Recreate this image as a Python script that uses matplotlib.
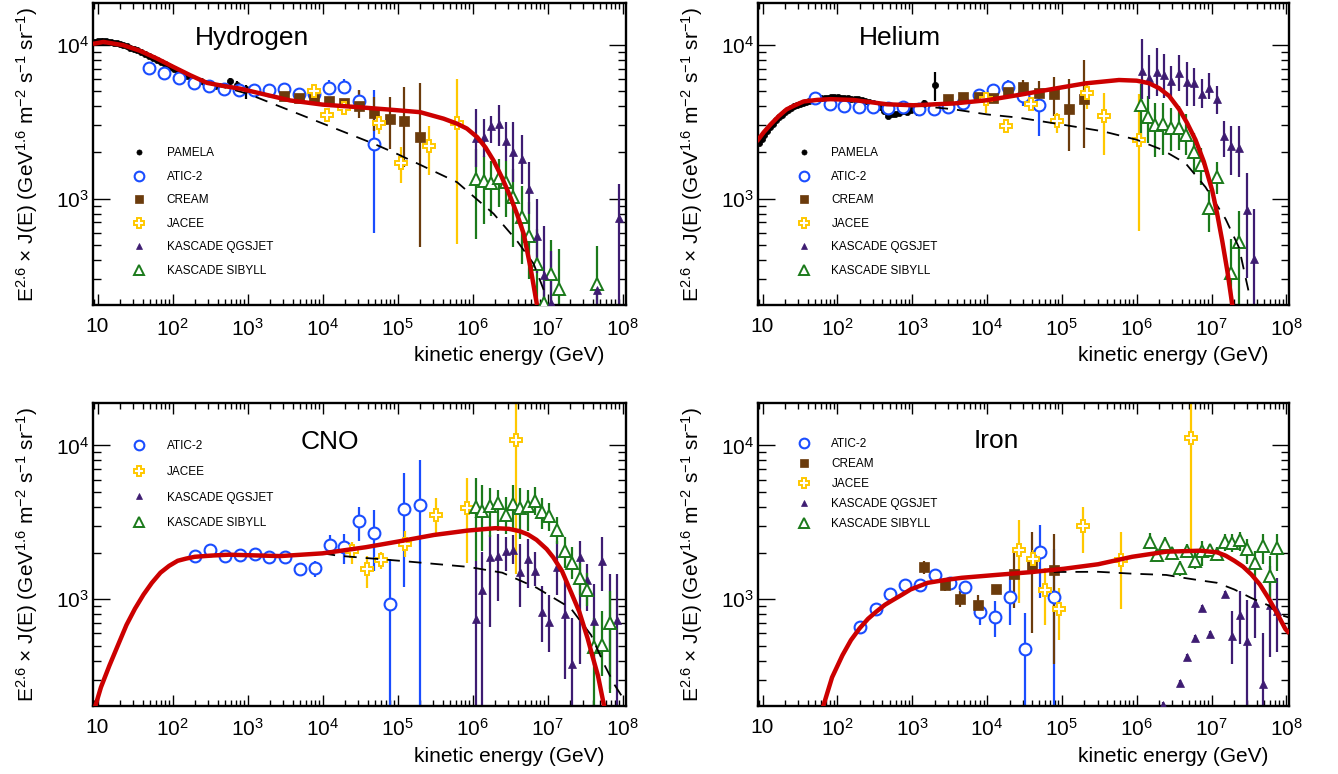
import numpy as np
import matplotlib
matplotlib.use("Agg")
import matplotlib.pyplot as plt
from matplotlib.lines import Line2D
from matplotlib.ticker import FixedLocator, FuncFormatter, NullFormatter, LogLocator

plt.rcParams["font.family"] = ["Liberation Sans", "DejaVu Sans"]
plt.rcParams["mathtext.fontset"] = "custom"
plt.rcParams["mathtext.rm"] = "Liberation Sans"
plt.rcParams["mathtext.it"] = "Liberation Sans:italic"
plt.rcParams["mathtext.bf"] = "Liberation Sans:bold"

# ---------------- Hydrogen ----------------
h_pamela_e = [8.8, 9.5, 10.2, 11.0, 11.9, 12.9, 14.0, 15.2, 16.6, 18.2, 20.0, 22.0, 24.4, 27.1, 30.2,
              33.8, 38.0, 42.8, 48.3, 54.6, 61.9, 70.3, 80.0, 91.2, 104, 119, 136, 156, 179, 206,
              237, 273, 315, 364, 420]
h_pamela_j = [10500, 10550, 10600, 10600, 10600, 10600, 10550, 10500, 10400, 10300, 10150, 10000, 9850,
              9650, 9450, 9250, 9050, 8800, 8550, 8300, 8050, 7750, 7500, 7250, 7000, 6750, 6500, 6300,
              6100, 5950, 5800, 5650, 5550, 5450, 5400]
h_pamela_tail_e = [575, 721, 955]
h_pamela_tail_j = [5820, 5530, 5210]
h_pamela_tail_lo = [5480, 5210, 4480]
h_pamela_tail_hi = [6150, 5820, 5530]

h_atic_e = [48, 77, 122, 193, 305, 484, 776, 1230, 1950, 3090, 4900, 7760, 1.23e4, 1.95e4, 3.1e4, 4.9e4]
h_atic_j = [7080, 6560, 6080, 5700, 5400, 5180, 5130, 5080, 5130, 5180, 4810, 4810, 5260, 5370, 4310, 2280]
h_atic_lo = [6940, 6430, 5960, 5590, 5290, 5080, 5030, 4980, 5030, 5070, 4710, 4700, 4710, 4830, 3660, 600]
h_atic_hi = [7220, 6690, 6200, 5810, 5510, 5280, 5230, 5180, 5230, 5290, 4910, 4920, 5900, 5990, 5130, 5080]

h_cream_e = [3090, 4900, 7760, 1.23e4, 1.95e4, 3.1e4, 4.9e4, 7.8e4, 1.23e5, 1.98e5]
h_cream_j = [4670, 4550, 4440, 4320, 4220, 3990, 3610, 3280, 3230, 2515]
h_cream_lo = [4550, 4430, 4310, 4170, 4050, 3330, 2780, 2110, 1620, 486]
h_cream_hi = [4790, 4670, 4570, 4470, 4400, 5080, 4570, 4580, 5310, 5650]

h_jacee_e = [7760, 1.15e4, 1.9e4, 5.7e4, 1.1e5, 2.6e5, 6.2e5]
h_jacee_j = [5030, 3520, 3920, 3130, 1710, 2210, 3100]
h_jacee_lo = [4800, 3380, 3660, 2650, 1260, 1435, 506]
h_jacee_hi = [5250, 3660, 4260, 3520, 2160, 2960, 6050]

h_qgs_e = [1.12e6, 1.41e6, 1.78e6, 2.24e6, 2.82e6, 3.5e6, 4.5e6, 5.6e6, 7.1e6, 8.9e6, 1.12e7, 4.6e7, 8.8e7]
h_qgs_j = [2490, 2540, 2970, 3050, 2390, 2010, 1825, 1150, 570, 318, 210, 253, 748]
h_qgs_lo = [1600, 1860, 2300, 2220, 1770, 1280, 1250, 794, 330, 150, 150, 150, 150]
h_qgs_hi = [3850, 3320, 3480, 4055, 3150, 3150, 2580, 1730, 995, 667, 457, 291, 1250]

h_sib_e = [1.12e6, 1.41e6, 1.78e6, 2.24e6, 2.82e6, 3.5e6, 4.5e6, 5.6e6, 7.1e6, 8.9e6, 1.12e7, 1.41e7, 4.6e7]
h_sib_j = [1345, 1310, 1260, 1365, 1280, 1020, 755, 570, 374, 209, 322, 257, 279]
h_sib_lo = [546, 684, 774, 877, 755, 481, 374, 299, 150, 150, 150, 150, 150]
h_sib_hi = [2110, 1910, 1770, 1815, 1770, 1565, 1215, 946, 634, 314, 537, 469, 493]

h_model_e = [8.7, 12, 22, 37, 62, 103, 172, 288, 500, 794, 1500, 3700, 1e4, 2.9e4, 8e4, 2e5, 4.1e5,
             6.2e5, 8.4e5, 1.15e6, 1.48e6, 1.9e6, 2.45e6, 3.2e6, 3.9e6, 4.8e6, 5.9e6, 7.2e6]
h_model_j = [10200, 10500, 10000, 9180, 8180, 7210, 6370, 5680, 5400, 5210, 4840, 4365, 4100, 3950,
             3800, 3660, 3320, 3080, 2860, 2515, 2160, 1770, 1378, 1020, 794, 588, 356, 203]
h_break_e = [8.7, 12, 22, 37, 62, 103, 172, 288, 500, 1000, 4.8e4, 1e5, 6.2e5, 1.9e6, 3.9e6, 6.5e6, 9.3e6]
h_break_j = [10200, 10500, 10000, 9180, 8180, 7210, 6370, 5680, 5300, 4830, 2280, 1950, 1280, 798, 531,
             376, 239]

# ---------------- Helium ----------------
he_pamela_e = [8.9, 9.7, 10.6, 11.6, 12.7, 13.9, 15.2, 16.6, 18.2, 19.9, 21.8, 23.9, 26.2, 28.7, 31.5,
               34.6, 38.0, 41.8, 46.0, 50.6, 55.7, 61.4, 67.7, 74.7, 82.5, 91.2, 101, 112, 124, 138,
               153, 170, 190, 212, 237, 265, 297, 333, 374, 420, 472, 530, 596, 670, 753, 847, 952]
he_pamela_j = [2300, 2450, 2600, 2760, 2920, 3080, 3240, 3390, 3530, 3660, 3780, 3890, 3990, 4080, 4160,
               4230, 4290, 4340, 4380, 4420, 4460, 4500, 4530, 4560, 4600, 4620, 4600, 4550, 4520, 4500,
               4480, 4460, 4440, 4400, 4350, 4280, 4200, 4100, 3950, 3720, 3450, 3580, 3550, 3600, 3720,
               3650, 3800]
he_pamela_tail_e = [1150, 1450, 1990]
he_pamela_tail_j = [3700, 4180, 5500]
he_pamela_tail_lo = [3450, 3980, 4330]
he_pamela_tail_hi = [3950, 4400, 6730]

he_atic_e = [51, 79, 124, 193, 300, 480, 760, 1220, 1930, 3050, 4850, 7700, 1.2e4, 1.9e4, 3.0e4, 5.0e4]
he_atic_j = [4510, 4160, 4010, 3980, 3960, 3920, 3960, 3860, 3860, 3980, 4230, 4720, 5090, 5310, 4700, 4060]
he_atic_lo = [4420, 4070, 3920, 3890, 3870, 3830, 3870, 3770, 3770, 3880, 4120, 4600, 4950, 5050, 4010, 2570]
he_atic_hi = [4600, 4250, 4100, 4070, 4050, 4010, 4050, 3950, 3950, 4080, 4340, 4840, 5230, 5900, 5000, 4790]

he_cream_e = [3050, 4850, 7700, 1.2e4, 1.9e4, 3.0e4, 5.0e4, 7.9e4, 1.26e5, 2.0e5]
he_cream_j = [4470, 4590, 4600, 4510, 4960, 5310, 4870, 4790, 3820, 4470]
he_cream_lo = [4370, 4490, 4480, 4380, 4800, 5050, 4300, 3450, 2030, 2140]
he_cream_hi = [4570, 4690, 4720, 4640, 5120, 5900, 5880, 6170, 6030, 8040]

he_jacee_e = [9800, 1.8e4, 3.9e4, 8.5e4, 2.2e5, 3.7e5, 1.07e6]
he_jacee_j = [4450, 2970, 4120, 3190, 4870, 3450, 2420]
he_jacee_lo = [3630, 2880, 3980, 2680, 3820, 1930, 618]
he_jacee_hi = [4800, 3060, 4260, 3630, 5860, 4900, 4790]

he_qgs_e = [1.16e6, 1.46e6, 1.85e6, 2.31e6, 2.9e6, 3.67e6, 4.65e6, 5.8e6, 7.4e6, 9.2e6, 1.17e7, 1.47e7,
            1.84e7, 2.34e7, 2.95e7, 3.7e7]
he_qgs_j = [6820, 6110, 6720, 6410, 5800, 6590, 5780, 5660, 4840, 5270, 4450, 2550, 2190, 2140, 845, 405]
he_qgs_lo = [4450, 4450, 4680, 4560, 4450, 5050, 4020, 4020, 3920, 4450, 3540, 1880, 1425, 1390, 304, 150]
he_qgs_hi = [10900, 8570, 9590, 8810, 7360, 8570, 7760, 7080, 6030, 6590, 5450, 3200, 2970, 2970, 1460, 859]

he_sib_e = [1.13e6, 1.43e6, 1.78e6, 2.24e6, 2.85e6, 3.67e6, 4.6e6, 5.76e6, 7.3e6, 9.2e6, 1.17e7, 1.84e7, 2.34e7]
he_sib_j = [4060, 3420, 3000, 3050, 2890, 2900, 2610, 2010, 1660, 871, 1390, 328, 525]
he_sib_lo = [2420, 2310, 1880, 1930, 2030, 2080, 1930, 1460, 1220, 603, 1080, 150, 150]
he_sib_hi = [5580, 4680, 4230, 4230, 3920, 4020, 3540, 2680, 2140, 1135, 1740, 545, 837]

he_model_e = [8.4, 10.4, 12.8, 16.5, 21, 27.5, 35.5, 54, 81, 165, 460, 1040, 3600, 1e4, 2.66e4, 1e5,
              2.07e5, 5.8e5, 1e6, 1.45e6, 2e6, 2.7e6, 3.7e6, 4.7e6, 6.1e6, 7.9e6, 1.02e7, 1.19e7,
              1.39e7, 1.63e7, 1.9e7]
he_model_j = [2360, 2710, 3040, 3450, 3820, 4070, 4300, 4400, 4450, 4395, 4120, 4060, 4170, 4380, 4740,
              5310, 5640, 5930, 5870, 5660, 5240, 4680, 3820, 3120, 2420, 1740, 1134, 796, 531, 336, 201]
he_break_e = [8.4, 10.4, 12.8, 16.5, 21, 27.5, 35.5, 54, 81, 165, 460, 1040, 3600, 1e4, 2.66e4, 1e5,
              3.5e5, 1e6, 2.2e6, 4.5e6, 8.3e6, 1.54e7, 2.33e7, 3.2e7]
he_break_j = [2360, 2710, 3040, 3450, 3820, 4070, 4300, 4400, 4450, 4395, 4120, 4060, 3820, 3540, 3370,
              3040, 2750, 2420, 2080, 1700, 1190, 738, 480, 237]

# ---------------- CNO ----------------
cno_atic_e = [198, 318, 498, 789, 1260, 1940, 3120, 4940, 7840, 1.24e4, 1.95e4, 3.1e4, 4.9e4, 7.8e4,
              1.22e5, 1.96e5]
cno_atic_j = [1910, 2090, 1900, 1940, 1970, 1870, 1870, 1580, 1590, 2265, 2180, 3230, 2700, 936, 3890, 4090]
cno_atic_lo = [1850, 2020, 1840, 1880, 1910, 1810, 1810, 1490, 1395, 1990, 1690, 2410, 1530, 150, 1200, 150]
cno_atic_hi = [1970, 2160, 1960, 2000, 2030, 1930, 1930, 1670, 1780, 2600, 2640, 3990, 3790, 1820, 6610, 8090]

cno_jacee_e = [2.45e4, 3.86e4, 6.0e4, 1.25e5, 3.2e5, 8.5e5, 3.77e6]
cno_jacee_j = [2050, 1570, 1800, 2290, 3550, 3930, 10900]
cno_jacee_lo = [1690, 1190, 1570, 1870, 2640, 1730, 1450]
cno_jacee_hi = [2350, 1920, 2040, 2800, 4530, 6120, 25000]

cno_qgs_e = [1.1e6, 1.35e6, 1.72e6, 2.19e6, 2.75e6, 3.4e6, 4.27e6, 5.45e6, 6.8e6, 8.5e6, 1.05e7, 1.33e7,
             1.69e7, 2.13e7, 2.68e7, 3.34e7, 4.2e7, 5.3e7, 6.7e7, 8.5e7]
cno_qgs_j = [747, 1157, 1870, 1900, 2050, 2090, 1515, 1820, 1530, 826, 709, 1625, 805, 381, 1870, 1327,
             724, 1780, 709, 734]
cno_qgs_lo = [150, 150, 664, 980, 1530, 1700, 886, 1190, 1220, 530, 455, 1073, 303, 150, 380, 834, 372,
              1130, 261, 150]
cno_qgs_hi = [1780, 2020, 2600, 2660, 2540, 2600, 2290, 2470, 2020, 1220, 1073, 2410, 1347, 753, 2400,
              1690, 1250, 2540, 1450, 1450]

cno_sib_e = [1.1e6, 1.35e6, 1.72e6, 2.19e6, 2.75e6, 3.4e6, 4.27e6, 5.45e6, 6.8e6, 8.5e6, 1.05e7, 1.33e7,
             1.69e7, 2.13e7, 2.68e7, 3.3e7, 4.2e7, 5.3e7, 6.7e7]
cno_sib_j = [3990, 3760, 4050, 4240, 3520, 4150, 3930, 4030, 4350, 3700, 3480, 2830, 2050, 1720, 1380,
             1158, 491, 503, 698]
cno_sib_lo = [1780, 2070, 2540, 2800, 2660, 2800, 2470, 2800, 3520, 2870, 2800, 2290, 1607, 1347, 1073,
              900, 150, 319, 248]
cno_sib_hi = [6120, 5530, 5260, 5140, 4650, 5530, 5260, 5140, 5400, 4530, 4200, 3430, 2540, 2180, 1733,
              1490, 753, 834, 1130]

cno_model_e = [8.7, 11.1, 14.4, 18.7, 24.3, 31.5, 41, 53, 69, 90, 117, 152, 198, 333, 563, 2720, 1e4,
               3.74e4, 1.07e5, 3.05e5, 8.7e5, 2.0e6, 3.05e6, 4.2e6, 5.45e6, 7.1e6, 9.7e6, 1.19e7,
               1.55e7, 2.02e7, 2.63e7, 3.41e7, 3.98e7, 4.68e7, 5.59e7, 6.2e7]
cno_model_j = [180, 268, 371, 503, 681, 868, 1073, 1280, 1490, 1650, 1780, 1840, 1890, 1925, 1950, 1910,
               1990, 2180, 2385, 2620, 2800, 2900, 2870, 2775, 2640, 2435, 2120, 1870, 1528, 1130, 834,
               557, 422, 319, 208, 160]
cno_break_e = [1.0e4, 1.62e4, 1.07e5, 8.7e5, 2.48e6, 7.1e6, 2.02e7, 3.78e7, 5.75e7, 7.9e7, 1.0e8]
cno_break_j = [1990, 1920, 1780, 1625, 1490, 1190, 877, 587, 372, 275, 230]

# ---------------- Iron ----------------
fe_atic_e = [202, 324, 513, 813, 1280, 2030, 3210, 5100, 8180, 1.28e4, 2.03e4, 3.24e4, 5.07e4, 7.9e4]
fe_atic_j = [661, 859, 1090, 1236, 1248, 1430, 1280, 1211, 826, 773, 1031, 479, 2020, 1041]
fe_atic_lo = [640, 832, 1056, 1198, 1210, 1385, 1240, 1130, 681, 571, 681, 150, 1020, 150]
fe_atic_hi = [682, 886, 1124, 1274, 1286, 1475, 1320, 1290, 970, 970, 1452, 813, 3020, 2120]

fe_cream_e = [1450, 2720, 4370, 7590, 1.31e4, 2.26e4, 3.94e4, 7.9e4]
fe_cream_j = [1624, 1230, 1000, 914, 1175, 1452, 1675, 1545]
fe_cream_lo = [1450, 1130, 886, 753, 1130, 877, 601, 381]
fe_cream_hi = [1780, 1330, 1130, 1073, 1220, 2020, 2730, 2660]

fe_jacee_e = [2.67e4, 4.07e4, 6.0e4, 9.2e4, 1.94e5, 6.2e5, 5.27e6]
fe_jacee_j = [2100, 1825, 1152, 869, 2980, 1800, 11100]
fe_jacee_lo = [946, 1500, 681, 543, 1990, 869, 1970]
fe_jacee_hi = [3260, 2100, 1607, 1188, 3990, 2730, 25000]

fe_qgs_e = [2.28e6, 3.77e6, 4.75e6, 5.98e6, 7.5e6, 9.5e6, 1.5e7, 1.9e7, 2.4e7, 3.0e7, 3.8e7, 4.8e7,
            6.0e7, 7.6e7]
fe_qgs_j = [205, 284, 422, 562, 877, 597, 1090, 580, 793, 535, 946, 282, 922, 834]
fe_qgs_lo = [195, 270, 402, 536, 840, 572, 1045, 381, 516, 150, 557, 150, 422, 455]
fe_qgs_hi = [216, 298, 442, 588, 914, 622, 1135, 834, 1130, 995, 1313, 601, 1650, 1380]

fe_sib_e = [1.5e6, 1.86e6, 2.38e6, 2.96e6, 3.77e6, 4.75e6, 5.98e6, 7.5e6, 9.5e6, 1.19e7, 1.5e7, 1.89e7,
            2.4e7, 3.0e7, 3.8e7, 4.8e7, 6.0e7, 7.6e7]
fe_sib_j = [2370, 1940, 2290, 2010, 1592, 2050, 1780, 2070, 2090, 1970, 2350, 2325, 2430, 2120, 1718,
            2210, 1417, 2155]
fe_sib_lo = [2120, 1780, 2050, 1870, 1417, 1870, 1567, 1650, 1870, 1780, 2070, 2020, 2050, 1690, 1313,
             1690, 1020, 1530]
fe_sib_hi = [2690, 2120, 2540, 2200, 1780, 2290, 1990, 2380, 2290, 2180, 2660, 2660, 2730, 2470, 2070,
             2660, 1920, 2640]

fe_model_e = [60, 66, 85, 117, 152, 198, 257, 334, 435, 563, 735, 955, 1240, 1610, 2720, 4590, 1.31e4,
              3.73e4, 1.07e5, 3.05e5, 8.7e5, 2.48e6, 7.1e6, 1.19e7, 1.55e7, 2.02e7, 2.63e7, 3.41e7,
              4.43e7, 5.75e7, 7.5e7, 9.7e7, 1.1e8]
fe_model_j = [180, 208, 311, 433, 543, 647, 747, 834, 923, 995, 1073, 1160, 1218, 1280, 1334, 1380, 1440,
              1500, 1580, 1690, 1890, 2040, 2070, 2020, 1920, 1780, 1633, 1450, 1248, 1020, 813, 641, 600]
fe_break_e = [7.8e4, 3.05e5, 8.7e5, 2.48e6, 4.2e6, 7.1e6, 1.19e7, 2.02e7, 3.41e7, 5.75e7, 8.3e7, 1.1e8]
fe_break_j = [1505, 1510, 1468, 1440, 1380, 1327, 1280, 1158, 1020, 914, 793, 760]

X_MAJOR = [1e1, 1e2, 1e3, 1e4, 1e5, 1e6, 1e7, 1e8]
Y_MAJOR = [1e3, 1e4]

YLABEL = "E$^{2.6}$ × J(E) (GeV$^{1.6}$ m$^{-2}$ s$^{-1}$ sr$^{-1}$)"

STYLES = {
    "PAMELA": dict(marker="o", ms=4.5, color="black", mfc="black", mec="black", mew=0.5),
    "ATIC-2": dict(marker="o", ms=8.5, color="#1a4dff", mfc="white", mec="#1a4dff", mew=1.5),
    "CREAM": dict(marker="s", ms=6.5, color="#6b3b0c", mfc="#6b3b0c", mec="#6b3b0c", mew=0.5),
    "JACEE": dict(marker="P", ms=9, color="#ffc800", mfc="white", mec="#ffc800", mew=1.4),
    "KASCADE QGSJET": dict(marker="^", ms=5.5, color="#3e1c72", mfc="#3e1c72", mec="#3e1c72", mew=0.5),
    "KASCADE SIBYLL": dict(marker="^", ms=8, color="#1b7a1b", mfc="white", mec="#1b7a1b", mew=1.4),
}


def plot_points(ax, name, e, j, lo=None, hi=None):
    st = STYLES[name]
    e = np.asarray(e, float)
    j = np.asarray(j, float)
    if lo is not None:
        yerr = [j - np.asarray(lo, float), np.asarray(hi, float) - j]
        ax.errorbar(e, j, yerr=yerr, fmt="none", ecolor=st["color"], elinewidth=1.6, capsize=0, zorder=2)
    ax.plot(e, j, ls="none", marker=st["marker"], ms=st["ms"], mfc=st["mfc"], mec=st["mec"],
            mew=st["mew"], zorder=3)


def plot_model(ax, me, mj, be, bj):
    ax.plot(be, bj, color="black", lw=1.3, dashes=(7, 5), zorder=5)
    ax.plot(me, mj, color="#cc0000", lw=3.2, zorder=6, solid_capstyle="butt", solid_joinstyle="round")


def pow_label(v, pos):
    n = int(round(np.log10(v)))
    if n == 1:
        return "10"
    return r"$10^{%d}$" % n


def style_axes(ax, title, title_xy, names, legend_xy, spacing):
    ax.set_xscale("log")
    ax.set_yscale("log")
    ax.set_xlim(8.7, 1.09e8)
    ax.set_ylim(203, 1.88e4)
    ax.xaxis.set_major_locator(FixedLocator(X_MAJOR))
    ax.xaxis.set_minor_locator(LogLocator(base=10, subs=np.arange(2, 10)))
    ax.xaxis.set_major_formatter(FuncFormatter(pow_label))
    ax.xaxis.set_minor_formatter(NullFormatter())
    ax.yaxis.set_major_locator(FixedLocator(Y_MAJOR))
    ax.yaxis.set_minor_locator(LogLocator(base=10, subs=np.arange(2, 10)))
    ax.yaxis.set_major_formatter(FuncFormatter(pow_label))
    ax.yaxis.set_minor_formatter(NullFormatter())

    ax.tick_params(which="both", direction="in", top=True, right=True, width=1.0, colors="black")
    ax.tick_params(axis="x", which="major", length=8, labelsize=15, pad=9)
    ax.tick_params(axis="x", which="minor", length=4)
    ax.tick_params(axis="y", which="major", length=12, labelsize=15, pad=3)
    ax.tick_params(axis="y", which="minor", length=6)
    for spine in ax.spines.values():
        spine.set_linewidth(1.7)

    ax.set_xlabel("kinetic energy (GeV)", fontsize=15, ha="right")
    ax.xaxis.set_label_coords(0.96, -0.135)
    ax.set_ylabel(YLABEL, fontsize=15)
    ax.yaxis.set_label_coords(-0.099, 0.5)

    ax.text(title_xy[0], title_xy[1], title, transform=ax.transAxes, fontsize=19,
            ha="center", va="center")

    handles = []
    for name in names:
        st = STYLES[name]
        handles.append(Line2D([], [], ls="none", marker=st["marker"], ms=st["ms"], mfc=st["mfc"],
                              mec=st["mec"], mew=st["mew"]))
    ax.legend(handles, names, loc="upper left", bbox_to_anchor=legend_xy, frameon=False, fontsize=8.5,
              handlelength=1.0, handletextpad=1.8, labelspacing=spacing, borderpad=0,
              borderaxespad=0, numpoints=1, markerscale=0.82)


fig = plt.figure(figsize=(13.38, 7.74), dpi=100)
ax_h = fig.add_axes([0.0695, 0.606, 0.398, 0.390])
ax_he = fig.add_axes([0.5665, 0.606, 0.397, 0.390])
ax_cno = fig.add_axes([0.0695, 0.088, 0.398, 0.391])
ax_fe = fig.add_axes([0.5665, 0.088, 0.397, 0.391])

# Hydrogen
plot_points(ax_h, "PAMELA", h_pamela_e, h_pamela_j)
plot_points(ax_h, "PAMELA", h_pamela_tail_e, h_pamela_tail_j, h_pamela_tail_lo, h_pamela_tail_hi)
plot_points(ax_h, "ATIC-2", h_atic_e, h_atic_j, h_atic_lo, h_atic_hi)
plot_points(ax_h, "CREAM", h_cream_e, h_cream_j, h_cream_lo, h_cream_hi)
plot_points(ax_h, "JACEE", h_jacee_e, h_jacee_j, h_jacee_lo, h_jacee_hi)
plot_points(ax_h, "KASCADE SIBYLL", h_sib_e, h_sib_j, h_sib_lo, h_sib_hi)
plot_points(ax_h, "KASCADE QGSJET", h_qgs_e, h_qgs_j, h_qgs_lo, h_qgs_hi)
plot_model(ax_h, h_model_e, h_model_j, h_break_e, h_break_j)
style_axes(ax_h, "Hydrogen", (0.298, 0.885),
           ["PAMELA", "ATIC-2", "CREAM", "JACEE", "KASCADE QGSJET", "KASCADE SIBYLL"],
           (0.076, 0.522), 0.97)

# Helium
plot_points(ax_he, "PAMELA", he_pamela_e, he_pamela_j)
plot_points(ax_he, "PAMELA", he_pamela_tail_e, he_pamela_tail_j, he_pamela_tail_lo, he_pamela_tail_hi)
plot_points(ax_he, "ATIC-2", he_atic_e, he_atic_j, he_atic_lo, he_atic_hi)
plot_points(ax_he, "CREAM", he_cream_e, he_cream_j, he_cream_lo, he_cream_hi)
plot_points(ax_he, "JACEE", he_jacee_e, he_jacee_j, he_jacee_lo, he_jacee_hi)
plot_points(ax_he, "KASCADE SIBYLL", he_sib_e, he_sib_j, he_sib_lo, he_sib_hi)
plot_points(ax_he, "KASCADE QGSJET", he_qgs_e, he_qgs_j, he_qgs_lo, he_qgs_hi)
plot_model(ax_he, he_model_e, he_model_j, he_break_e, he_break_j)
style_axes(ax_he, "Helium", (0.267, 0.885),
           ["PAMELA", "ATIC-2", "CREAM", "JACEE", "KASCADE QGSJET", "KASCADE SIBYLL"],
           (0.076, 0.522), 0.97)

# CNO
plot_points(ax_cno, "ATIC-2", cno_atic_e, cno_atic_j, cno_atic_lo, cno_atic_hi)
plot_points(ax_cno, "JACEE", cno_jacee_e, cno_jacee_j, cno_jacee_lo, cno_jacee_hi)
plot_points(ax_cno, "KASCADE QGSJET", cno_qgs_e, cno_qgs_j, cno_qgs_lo, cno_qgs_hi)
plot_points(ax_cno, "KASCADE SIBYLL", cno_sib_e, cno_sib_j, cno_sib_lo, cno_sib_hi)
plot_model(ax_cno, cno_model_e, cno_model_j, cno_break_e, cno_break_j)
style_axes(ax_cno, "CNO", (0.445, 0.873),
           ["ATIC-2", "JACEE", "KASCADE QGSJET", "KASCADE SIBYLL"],
           (0.076, 0.877), 1.15)

# Iron
plot_points(ax_fe, "ATIC-2", fe_atic_e, fe_atic_j, fe_atic_lo, fe_atic_hi)
plot_points(ax_fe, "CREAM", fe_cream_e, fe_cream_j, fe_cream_lo, fe_cream_hi)
plot_points(ax_fe, "JACEE", fe_jacee_e, fe_jacee_j, fe_jacee_lo, fe_jacee_hi)
plot_points(ax_fe, "KASCADE QGSJET", fe_qgs_e, fe_qgs_j, fe_qgs_lo, fe_qgs_hi)
plot_points(ax_fe, "KASCADE SIBYLL", fe_sib_e, fe_sib_j, fe_sib_lo, fe_sib_hi)
plot_model(ax_fe, fe_model_e, fe_model_j, fe_break_e, fe_break_j)
style_axes(ax_fe, "Iron", (0.449, 0.875),
           ["ATIC-2", "CREAM", "JACEE", "KASCADE QGSJET", "KASCADE SIBYLL"],
           (0.076, 0.886), 0.68)

fig.savefig("out.png", dpi=100, facecolor="white")
